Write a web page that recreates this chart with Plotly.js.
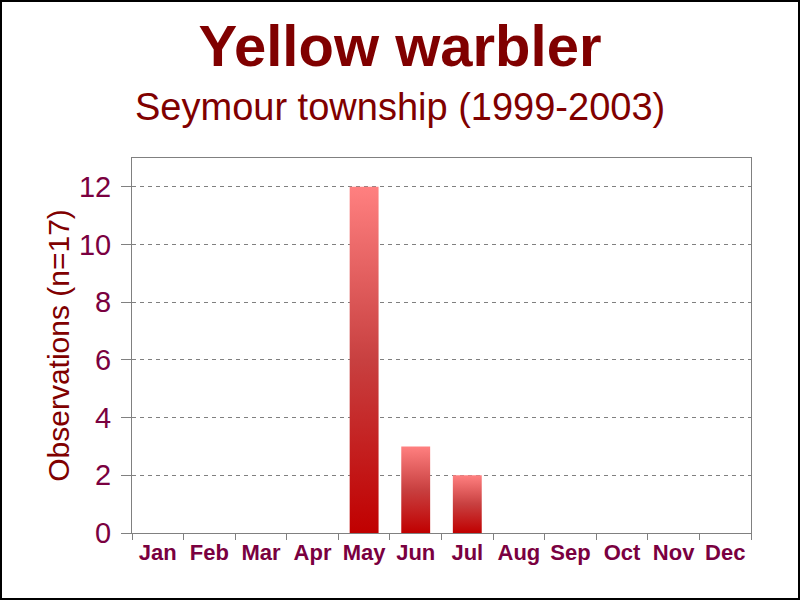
<!DOCTYPE html>
<html><head><meta charset="utf-8">
<script src="https://cdn.plot.ly/plotly-3.0.1.min.js"></script>
<style>
html,body{margin:0;padding:0;background:#fff;}
#wrap{position:relative;width:800px;height:600px;}
#chart{width:800px;height:600px;}
#frame{position:absolute;left:0;top:0;width:800px;height:600px;border:2px solid #000;box-sizing:border-box;pointer-events:none;}
</style></head>
<body><div id="wrap"><div id="chart"></div><div id="frame"></div></div>
<script>
const months = ["Jan","Feb","Mar","Apr","May","Jun","Jul","Aug","Sep","Oct","Nov","Dec"];
const observations = [0,0,0,0,12,3,2,0,0,0,0,0];
const yTicks = [0,2,4,6,8,10,12];
const titleText = "Yellow warbler";
const subtitleText = "Seymour township (1999-2003)";
const yTitleText = "Observations (n=17)";

const trace = {
  type: "bar",
  x: months,
  y: observations,
  marker: {color: "#d03030", line: {width: 0}},
  hoverinfo: "x+y"
};

const layout = {
  width: 800, height: 600,
  margin: {l: 132, r: 49, t: 158, b: 67},
  paper_bgcolor: "#ffffff",
  plot_bgcolor: "#ffffff",
  bargap: 0.44,
  showlegend: false,
  font: {family: "Arial, Liberation Sans, sans-serif"},
  title: {
    text: "<b>" + titleText + "</b>",
    font: {family: "Arial, Liberation Sans, sans-serif", size: 58, color: "#800000"},
    x: 0.5, xanchor: "center", xref: "container",
    y: 1 - 46/600, yanchor: "middle", yref: "container"
  },
  annotations: [{
    text: subtitleText,
    xref: "paper", yref: "paper",
    x: (400-132)/619, y: (533-107)/375,
    xanchor: "center", yanchor: "middle",
    showarrow: false,
    font: {family: "Arial, Liberation Sans, sans-serif", size: 38, color: "#800000"}
  }],
  xaxis: {
    type: "category",
    tickson: "boundaries",
    tickangle: 0,
    ticks: "outside", ticklen: 6, tickcolor: "#808080", tickwidth: 1,
    showline: true, mirror: true, linecolor: "#808080", linewidth: 1,
    showgrid: false,
    tickfont: {family: "Arial, Liberation Sans, sans-serif", size: 22, color: "#7a0040", weight: "bold"},
    fixedrange: true
  },
  yaxis: {
    range: [0, 13],
    tickvals: yTicks,
    ticktext: yTicks.map(String),
    ticks: "outside", ticklen: 10, tickcolor: "#808080",
    ticklabelstandoff: 4,
    showline: true, mirror: true, linecolor: "#808080", linewidth: 1,
    showgrid: true, gridcolor: "#808080", gridwidth: 1, griddash: "4px,4px",
    zeroline: false,
    tickfont: {family: "Arial, Liberation Sans, sans-serif", size: 29, color: "#7a0040"},
    title: {text: yTitleText, standoff: 0,
      font: {family: "Arial, Liberation Sans, sans-serif", size: 30, color: "#800000"}},
    fixedrange: true
  }
};

Plotly.newPlot("chart", [trace], layout, {displayModeBar: false, staticPlot: true}).then(function(gd){
  const svg = gd.querySelector("svg.main-svg");
  const ns = "http://www.w3.org/2000/svg";
  let defs = svg.querySelector("defs");
  if (!defs) { defs = document.createElementNS(ns, "defs"); svg.insertBefore(defs, svg.firstChild); }
  const grad = document.createElementNS(ns, "linearGradient");
  grad.setAttribute("id", "barGrad");
  grad.setAttribute("x1", "0"); grad.setAttribute("y1", "0");
  grad.setAttribute("x2", "0"); grad.setAttribute("y2", "1");
  [["0", "#ff8080"], ["0.5", "#c84040"], ["1", "#c00000"]].forEach(function(s){
    const st = document.createElementNS(ns, "stop");
    st.setAttribute("offset", s[0]); st.setAttribute("stop-color", s[1]);
    grad.appendChild(st);
  });
  defs.appendChild(grad);
  gd.querySelectorAll(".trace.bars .point path").forEach(function(p){
    p.style.fill = "url(#barGrad)";
  });
});
</script></body></html>
